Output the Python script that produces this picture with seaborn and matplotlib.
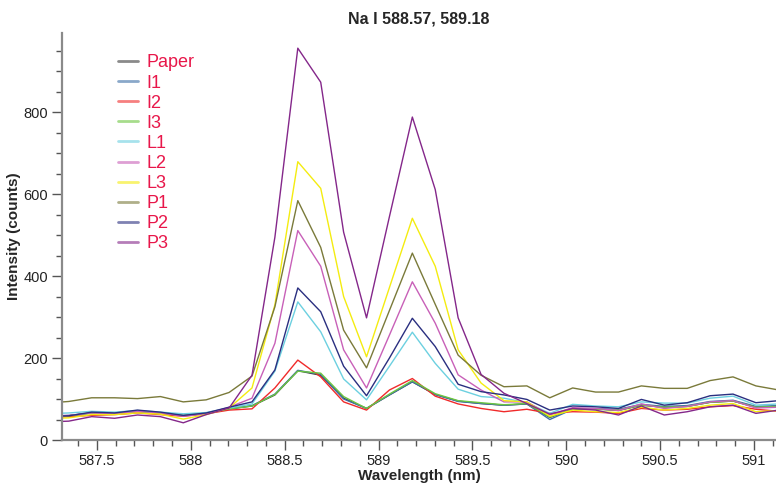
import matplotlib
matplotlib.use("Agg")
import matplotlib.pyplot as plt
from matplotlib.ticker import MultipleLocator
from matplotlib.lines import Line2D
import seaborn as sns
import pandas as pd

# Wavelength grid (nm)
wavelength = [587.228, 587.350, 587.472, 587.594, 587.716, 587.838, 587.960,
              588.082, 588.204, 588.326, 588.448, 588.570, 588.692, 588.814,
              588.936, 589.058, 589.180, 589.302, 589.424, 589.546, 589.668,
              589.790, 589.912, 590.034, 590.156, 590.278, 590.400, 590.522,
              590.644, 590.766, 590.888, 591.010, 591.132]

# Intensity (counts) per sample
paper = [57, 59, 66, 65, 70, 66, 59, 65, 76, 83, 110, 169, 158, 102, 77, 110, 142,
         111, 95, 89, 85, 88, 55, 75, 76, 72, 85, 80, 82, 92, 95, 80, 82]
i1 = [58, 60, 66, 65, 70, 66, 60, 65, 76, 84, 112, 170, 160, 100, 77, 110, 142,
      111, 94, 89, 85, 88, 50, 75, 76, 75, 87, 82, 84, 94, 97, 82, 84]
i2 = [55, 57, 60, 62, 66, 62, 58, 64, 73, 76, 127, 195, 154, 93, 73, 122, 150,
      107, 88, 77, 69, 75, 65, 69, 68, 65, 77, 73, 75, 81, 84, 75, 70]
i3 = [57, 59, 66, 65, 70, 66, 60, 65, 76, 83, 111, 168, 163, 106, 77, 112, 145,
      113, 96, 91, 86, 89, 56, 76, 75, 73, 85, 80, 82, 92, 95, 80, 82]
l1 = [64, 66, 70, 68, 72, 68, 64, 67, 78, 88, 168, 337, 264, 149, 98, 180, 263,
      187, 124, 106, 102, 91, 65, 87, 83, 81, 93, 90, 90, 102, 107, 85, 88]
l2 = [58, 60, 66, 64, 70, 66, 58, 64, 80, 102, 236, 511, 424, 220, 127, 256, 386,
      285, 159, 122, 93, 93, 61, 79, 77, 72, 88, 77, 82, 93, 96, 78, 80]
l3 = [52, 54, 62, 62, 66, 63, 51, 62, 78, 127, 330, 679, 614, 350, 203, 372, 541,
      424, 220, 139, 96, 93, 58, 73, 69, 67, 80, 73, 77, 85, 89, 69, 72]
p1 = [90, 94, 103, 103, 101, 106, 93, 98, 116, 156, 325, 584, 470, 268, 176, 316, 456,
      331, 207, 158, 130, 132, 103, 127, 117, 117, 132, 126, 126, 145, 154, 132, 122]
p2 = [58, 59, 68, 66, 73, 68, 60, 66, 80, 93, 171, 371, 313, 180, 108, 200, 297,
      228, 136, 118, 110, 99, 73, 83, 81, 77, 99, 85, 91, 108, 112, 91, 96]
p3 = [44, 46, 57, 53, 61, 57, 42, 62, 78, 158, 495, 956, 873, 507, 298, 545, 788,
      611, 298, 160, 114, 89, 63, 77, 73, 61, 83, 61, 69, 81, 85, 65, 73]

samples = ["Paper", "I1", "I2", "I3", "L1", "L2", "L3", "P1", "P2", "P3"]
series = [paper, i1, i2, i3, l1, l2, l3, p1, p2, p3]
colors = ["#3c3c3c", "#3d6fa6", "#f02a2a", "#6cc640", "#6cd0e0",
          "#c860b8", "#f4ec10", "#7a7a3a", "#2a2f80", "#84278a"]
palette = dict(zip(samples, colors))

df = pd.DataFrame({
    "Wavelength": [w for _ in samples for w in wavelength],
    "Intensity": [v for s in series for v in s],
    "Sample": [name for name in samples for _ in wavelength],
})

sns.set_style("ticks")
plt.rcParams["font.family"] = ["Liberation Sans Narrow", "Liberation Sans", "DejaVu Sans"]

fig = plt.figure(figsize=(7.76, 4.84), dpi=100)
ax = fig.add_axes([0.0799, 0.0909, 0.9201, 0.8409])

sns.lineplot(data=df, x="Wavelength", y="Intensity", hue="Sample",
             hue_order=samples, palette=palette, linewidth=1.0,
             legend=False, ax=ax, estimator=None, sort=False)

ax.set_xlim(587.314, 591.117)
ax.set_ylim(0, 993)
ax.xaxis.set_major_locator(MultipleLocator(0.5))
ax.xaxis.set_minor_locator(MultipleLocator(0.1))
ax.yaxis.set_major_locator(MultipleLocator(200))
ax.yaxis.set_minor_locator(MultipleLocator(50))
ax.set_xticks([587.5, 588, 588.5, 589, 589.5, 590, 590.5, 591])
ax.set_xticklabels(["587.5", "588", "588.5", "589", "589.5", "590", "590.5", "591"])

for side in ("top", "right"):
    ax.spines[side].set_visible(False)
for side in ("left", "bottom"):
    ax.spines[side].set_color("#8a8a8a")
    ax.spines[side].set_linewidth(1.6)

ax.tick_params(axis="both", which="major", length=7, width=1.0, color="#555555",
               labelsize=10.5, labelcolor="#222222", pad=3)
ax.tick_params(axis="both", which="minor", length=4, width=1.0, color="#555555")

ax.set_xlabel("Wavelength (nm)", fontsize=11, fontweight="bold", labelpad=1)
ax.set_ylabel("Intensity (counts)", fontsize=11, fontweight="bold")
ax.yaxis.set_label_coords(-0.058, 0.5)
ax.set_title("Na I 588.57, 589.18", fontsize=11.5, fontweight="bold", pad=7)

handles = [Line2D([0], [0], color=c, lw=2.0, alpha=0.6) for c in colors]
leg = ax.legend(handles, samples, loc="upper left", bbox_to_anchor=(0.069, 0.965),
                frameon=False, fontsize=13, handlelength=1.1, handletextpad=0.45,
                labelspacing=0.17, borderaxespad=0)
for t in leg.get_texts():
    t.set_color("#e8174a")

fig.savefig("out.png", dpi=100)
